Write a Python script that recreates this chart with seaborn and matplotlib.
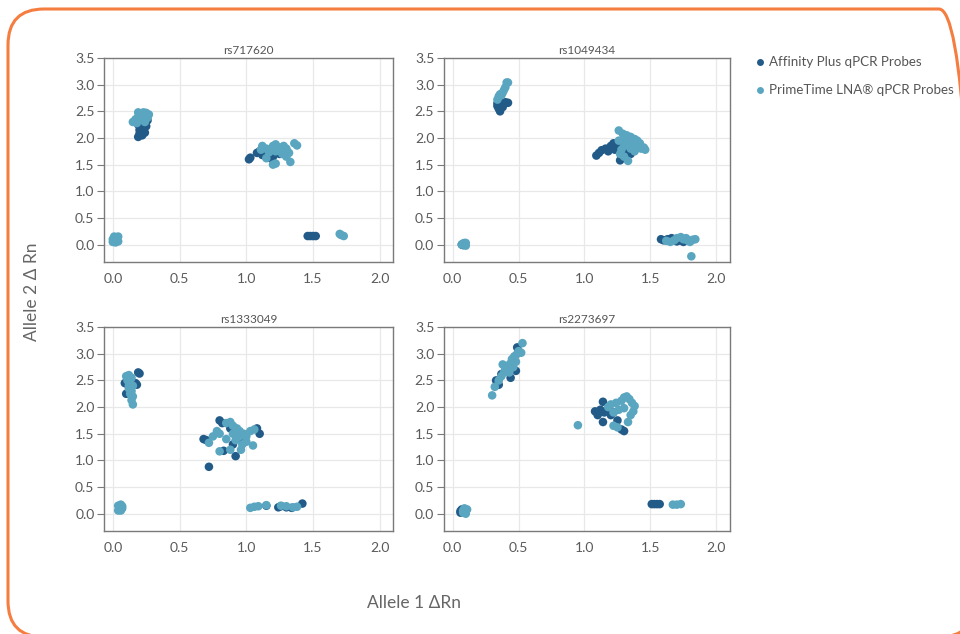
import numpy as np
import pandas as pd
import matplotlib
matplotlib.use("Agg")
import matplotlib.pyplot as plt
import seaborn as sns
from matplotlib.patches import FancyBboxPatch
from matplotlib.lines import Line2D

# SNP assays (one panel each)
snps = ["rs717620", "rs1049434", "rs1333049", "rs2273697"]
series = ["Affinity Plus qPCR Probes", "PrimeTime LNA\u00ae qPCR Probes"]
colors = ["#235b88", "#5aa6c1"]

# rs717620
rs717620_aff_x = [0.02, 0.02, 0.19, 0.20, 0.22, 0.24, 0.20, 0.23, 0.21, 0.25, 0.19, 0.22, 0.26,
                  1.02, 1.03, 1.08, 1.10, 1.12, 1.18, 1.20, 1.30, 1.25, 1.15,
                  1.46, 1.48, 1.50, 1.52]
rs717620_aff_y = [0.10, 0.08, 2.02, 2.08, 2.05, 2.10, 2.15, 2.18, 2.20, 2.22, 2.25, 2.30, 2.33,
                  1.60, 1.63, 1.72, 1.75, 1.68, 1.62, 1.65, 1.77, 1.70, 1.72,
                  0.16, 0.16, 0.16, 0.16]
rs717620_lna_x = [0.00, 0.02, 0.04, 0.00, 0.03, 0.01, 0.04, 0.02,
                  0.15, 0.17, 0.19, 0.21, 0.23, 0.25, 0.18, 0.22, 0.26, 0.24, 0.20, 0.27, 0.19,
                  1.12, 1.15, 1.18, 1.20, 1.22, 1.25, 1.28, 1.30, 1.32, 1.27, 1.22, 1.17, 1.11,
                  1.15, 1.33, 1.20, 1.22, 1.36, 1.38, 1.30,
                  1.70, 1.71, 1.73]
rs717620_lna_y = [0.05, 0.04, 0.06, 0.10, 0.12, 0.15, 0.15, 0.08,
                  2.30, 2.35, 2.40, 2.45, 2.48, 2.47, 2.28, 2.35, 2.38, 2.30, 2.38, 2.44, 2.48,
                  1.85, 1.80, 1.78, 1.85, 1.88, 1.82, 1.85, 1.80, 1.72, 1.70, 1.75, 1.73, 1.78,
                  1.62, 1.55, 1.50, 1.52, 1.90, 1.86, 1.65,
                  0.20, 0.18, 0.16]

# rs1049434
rs1049434_aff_x = [0.07, 0.09, 0.08,
                   0.34, 0.35, 0.36, 0.37, 0.38, 0.34, 0.40, 0.42, 0.36,
                   1.09, 1.11, 1.13, 1.16, 1.20, 1.22, 1.25, 1.23, 1.28, 1.27, 1.32, 1.35, 1.18, 1.30,
                   1.58, 1.60, 1.63, 1.66, 1.70, 1.72, 1.75, 1.68]
rs1049434_aff_y = [0.00, 0.02, -0.01,
                   2.60, 2.55, 2.50, 2.62, 2.58, 2.65, 2.67, 2.66, 2.68,
                   1.67, 1.72, 1.77, 1.80, 1.85, 1.90, 1.88, 1.78, 1.68, 1.58, 1.65, 1.70, 1.75, 1.75,
                   0.10, 0.08, 0.10, 0.12, 0.06, 0.08, 0.05, 0.10]
rs1049434_lna_x = [0.07, 0.09, 0.10, 0.08, 0.10,
                   0.34, 0.35, 0.36, 0.38, 0.39, 0.40, 0.41, 0.42, 0.37,
                   1.26, 1.29, 1.32, 1.35, 1.38, 1.40, 1.42, 1.45, 1.46, 1.30, 1.33, 1.37, 1.41,
                   1.30, 1.28, 1.27, 1.30, 1.33, 1.35, 1.38, 1.43, 1.26,
                   1.62, 1.65, 1.68, 1.70, 1.73, 1.75, 1.78, 1.80, 1.82, 1.84, 1.77, 1.81]
rs1049434_lna_y = [0.00, 0.03, -0.02, 0.02, 0.03,
                   2.72, 2.78, 2.82, 2.85, 2.90, 2.95, 3.04, 3.04, 2.80,
                   2.14, 2.08, 2.05, 2.02, 1.98, 1.95, 1.90, 1.82, 1.78, 1.98, 1.92, 1.88, 1.85,
                   1.85, 1.78, 1.70, 1.65, 1.57, 1.80, 1.75, 1.80, 1.95,
                   0.07, 0.05, 0.08, 0.12, 0.14, 0.10, 0.08, 0.05, 0.09, 0.10, 0.12, -0.22]

# rs1333049
rs1333049_aff_x = [0.05, 0.06,
                   0.09, 0.11, 0.10, 0.18, 0.19, 0.20, 0.17,
                   0.68, 0.70, 0.72, 0.80, 0.82, 0.83, 0.92, 0.90, 1.08, 1.10, 0.95, 0.88,
                   1.15, 1.24, 1.26, 1.30, 1.34, 1.42]
rs1333049_aff_y = [0.10, 0.08,
                   2.45, 2.43, 2.25, 2.42, 2.65, 2.63, 2.45,
                   1.40, 1.38, 0.88, 1.75, 1.70, 1.18, 1.08, 1.30, 1.60, 1.50, 1.40, 1.60,
                   0.15, 0.12, 0.14, 0.12, 0.11, 0.19]
rs1333049_lna_x = [0.04, 0.06, 0.07, 0.04, 0.06, 0.07, 0.05,
                   0.10, 0.12, 0.14, 0.11, 0.13, 0.15, 0.12, 0.14, 0.13, 0.15, 0.14, 0.15, 0.12,
                   0.72, 0.75, 0.78, 0.80, 0.85, 0.88, 0.90, 0.93, 0.95, 0.98, 1.00, 1.03, 1.06,
                   0.90, 0.95, 0.92, 0.97, 1.00, 0.96, 0.88, 0.80, 1.05, 0.85, 0.93,
                   1.03, 1.06, 1.09, 1.15, 1.26, 1.30, 1.35, 1.38]
rs1333049_lna_y = [0.06, 0.06, 0.10, 0.15, 0.17, 0.14, 0.11,
                   2.58, 2.60, 2.55, 2.50, 2.45, 2.40, 2.35, 2.30, 2.25, 2.20, 2.13, 2.05, 2.40,
                   1.33, 1.45, 1.55, 1.50, 1.70, 1.72, 1.65, 1.60, 1.55, 1.50, 1.45, 1.55, 1.58,
                   1.50, 1.45, 1.38, 1.30, 1.35, 1.20, 1.20, 1.17, 1.28, 1.40, 1.55,
                   0.11, 0.13, 0.14, 0.16, 0.15, 0.14, 0.12, 0.13]

# rs2273697
rs2273697_aff_x = [0.06, 0.07, 0.06,
                   0.33, 0.35, 0.37, 0.40, 0.43, 0.45, 0.47, 0.50, 0.49, 0.48, 0.44,
                   1.08, 1.10, 1.12, 1.14, 1.15, 1.14, 1.20, 1.22, 1.25, 1.28, 1.30, 1.18,
                   1.51, 1.53, 1.55, 1.57]
rs2273697_aff_y = [0.02, 0.08, 0.05,
                   2.50, 2.42, 2.62, 2.68, 2.78, 2.85, 2.95, 3.05, 3.12, 2.68, 2.55,
                   1.92, 1.85, 1.95, 2.10, 1.90, 1.72, 1.85, 1.90, 1.75, 1.58, 1.55, 1.95,
                   0.18, 0.18, 0.18, 0.18]
rs2273697_lna_x = [0.08, 0.10, 0.09, 0.11, 0.08, 0.10,
                   0.30, 0.32, 0.35, 0.37, 0.39, 0.40, 0.42, 0.44, 0.45, 0.47, 0.49, 0.50, 0.52,
                   0.53, 0.46, 0.43, 0.38, 0.48,
                   0.95,
                   1.18, 1.20, 1.24, 1.28, 1.30, 1.32, 1.34, 1.36, 1.38, 1.37, 1.35, 1.30, 1.26,
                   1.33, 1.22, 1.25, 1.22,
                   1.67, 1.70, 1.73]
rs2273697_lna_y = [0.02, 0.05, 0.10, 0.08, 0.06, 0.00,
                   2.22, 2.38, 2.50, 2.58, 2.65, 2.72, 2.78, 2.82, 2.90, 2.95, 3.00, 3.05, 3.02,
                   3.20, 2.75, 2.65, 2.80, 2.85,
                   1.66,
                   2.00, 2.05, 2.08, 2.12, 2.18, 2.20, 2.15, 2.08, 2.02, 1.92, 1.85, 1.98, 1.95,
                   1.72, 1.65, 1.62, 1.90,
                   0.17, 0.17, 0.18]

xy = {
    "rs717620": [(rs717620_aff_x, rs717620_aff_y), (rs717620_lna_x, rs717620_lna_y)],
    "rs1049434": [(rs1049434_aff_x, rs1049434_aff_y), (rs1049434_lna_x, rs1049434_lna_y)],
    "rs1333049": [(rs1333049_aff_x, rs1333049_aff_y), (rs1333049_lna_x, rs1333049_lna_y)],
    "rs2273697": [(rs2273697_aff_x, rs2273697_aff_y), (rs2273697_lna_x, rs2273697_lna_y)],
}

rows = []
for snp in snps:
    for name, (xs, ys) in zip(series, xy[snp]):
        for x, y in zip(xs, ys):
            rows.append({"snp": snp, "probe": name, "x": x, "y": y})
df = pd.DataFrame(rows)

sns.set_style("white")
plt.rcParams["font.family"] = ["Lato", "DejaVu Sans"]

fig = plt.figure(figsize=(9.6, 6.34), dpi=100)
positions = [
    [0.1085, 0.5865, 0.3010, 0.3220],
    [0.4625, 0.5865, 0.2975, 0.3220],
    [0.1085, 0.1620, 0.3010, 0.3220],
    [0.4625, 0.1620, 0.2975, 0.3220],
]
palette = dict(zip(series, colors))

for snp, pos in zip(snps, positions):
    ax = fig.add_axes(pos)
    sub = df[df["snp"] == snp]
    sns.scatterplot(data=sub, x="x", y="y", hue="probe", palette=palette,
                    s=38, linewidth=0, alpha=1, ax=ax, legend=False, marker="o")
    ax.set_xlim(-0.065, 2.1)
    ax.set_ylim(-0.33, 3.5)
    ax.set_xticks([0.0, 0.5, 1.0, 1.5, 2.0])
    ax.set_yticks([0.0, 0.5, 1.0, 1.5, 2.0, 2.5, 3.0, 3.5])
    ax.xaxis.set_major_formatter(matplotlib.ticker.FormatStrFormatter("%.1f"))
    ax.yaxis.set_major_formatter(matplotlib.ticker.FormatStrFormatter("%.1f"))
    ax.grid(True, color="#e8e8e8", linewidth=0.9)
    ax.set_axisbelow(True)
    for sp in ax.spines.values():
        sp.set_color("#7a7a7a")
        sp.set_linewidth(1.0)
    ax.tick_params(axis="y", labelsize=10, labelcolor="#5a5a5a", color="#7a7a7a",
                   length=5, width=0.8, left=True, pad=2)
    ax.tick_params(axis="x", labelsize=10, labelcolor="#5a5a5a", length=0,
                   bottom=True, pad=8)
    ax.set_xlabel("")
    ax.set_ylabel("")
    ax.set_title(snp, fontsize=8.5, color="#555555", pad=3)

fig.text(0.033, 0.54, "Allele 2 \u0394 Rn", rotation=90, ha="center", va="center",
         fontsize=12.5, color="#666666")
fig.text(0.431, 0.049, "Allele 1 \u0394Rn", ha="center", va="center",
         fontsize=12.5, color="#666666")

handles = [Line2D([0], [0], marker="o", linestyle="", markersize=5,
                  markerfacecolor=c, markeredgewidth=0) for c in colors]
leg = fig.legend(handles, series, loc="upper left", bbox_to_anchor=(0.772, 0.93),
                 frameon=False, fontsize=9.6, handletextpad=0.2, labelspacing=1.2,
                 handlelength=1.0)
for t in leg.get_texts():
    t.set_color("#555555")

# rounded orange border, drawn on a full-figure overlay axes in pixel units
# (y measured upward from the bottom edge)
frame_ax = fig.add_axes([0, 0, 1, 1], zorder=-1)
frame_ax.set_xlim(0, 960)
frame_ax.set_ylim(0, 634)
frame_ax.axis("off")
frame_ax.patch.set_alpha(0)
border = FancyBboxPatch((8, -3), 967, 628, boxstyle="round,pad=0,rounding_size=36",
                        facecolor="none", edgecolor="#f47d3f", linewidth=2.2)
frame_ax.add_patch(border)

fig.savefig("out.png", dpi=100)
